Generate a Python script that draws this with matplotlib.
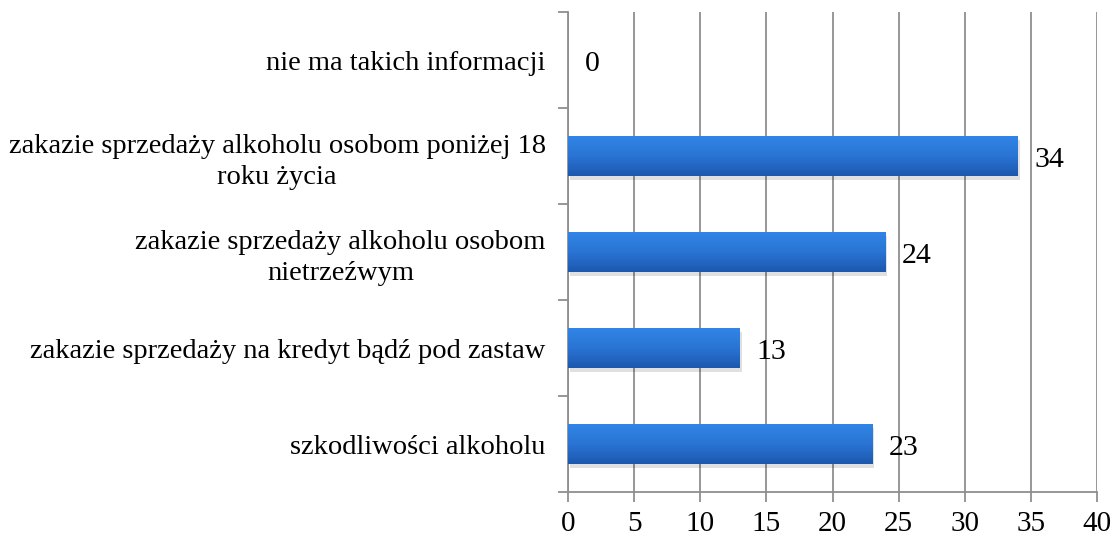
import matplotlib.pyplot as plt
import matplotlib.transforms as mtransforms
from matplotlib.colors import LinearSegmentedColormap
import numpy as np

plt.rcParams["font.family"] = ["Liberation Serif", "DejaVu Serif"]

categories = [
    "nie ma takich informacji",
    "zakazie sprzedaży alkoholu osobom poniżej 18\nroku życia",
    "zakazie sprzedaży alkoholu osobom\nnietrzeźwym",
    "zakazie sprzedaży na kredyt bądź pod zastaw",
    "szkodliwości alkoholu",
]
values = [0, 34, 24, 13, 23]
x_ticks = [0, 5, 10, 15, 20, 25, 30, 35, 40]

grid_c = "#8f8f8f"
blue = LinearSegmentedColormap.from_list("bar_blue", ["#3085e6", "#2a74d4", "#1c58ae"])

fig = plt.figure(figsize=(11.15, 5.39), dpi=100)
ax = fig.add_axes([568 / 1115, 47 / 539, 529 / 1115, 480 / 539])

ypos = np.arange(len(categories))
bar_h = 0.41

# soft drop shadow under each bar
shadow = mtransforms.offset_copy(ax.transData, fig=fig, x=1.5, y=-3, units="points")
for v, y in zip(values, ypos):
    if v > 0:
        ax.barh(y, v, height=bar_h, color="#000000", alpha=0.12, transform=shadow, zorder=2)

bars = ax.barh(ypos, values, height=bar_h, color="none", zorder=3)

# vertical gradient fill clipped to each bar
grad = np.linspace(0, 1, 64).reshape(-1, 1)
for b in bars:
    if b.get_width() <= 0:
        continue
    x0, y0 = b.get_x(), b.get_y()
    w, h = b.get_width(), b.get_height()
    im = ax.imshow(grad, cmap=blue, aspect="auto", origin="upper",
                   extent=(x0, x0 + w, y0 + h, y0), zorder=3)
    im.set_clip_path(b)

for v, y in zip(values, ypos):
    ax.annotate(str(v), (v, y), xytext=(12, -3), textcoords="offset points",
                ha="left", va="center", fontsize=21.5, zorder=4)

ax.set_xlim(0, 40)
ax.set_ylim(len(categories) - 0.5, -0.5)
ax.set_xticks(x_ticks)
ax.set_xticklabels([str(t) for t in x_ticks], fontsize=21)

# boundary ticks as majors, category names on minor ticks
ax.set_yticks(np.arange(-0.5, len(categories), 1.0))
ax.set_yticklabels([])
ax.set_yticks(ypos, minor=True)
ax.set_yticklabels(categories, minor=True, fontsize=20.5)
for lab in ax.get_yticklabels(minor=True):
    lab.set_multialignment("center")
    lab.set_linespacing(1.3)

ax.tick_params(axis="y", which="major", length=7, width=1.3, color=grid_c, direction="out")
ax.tick_params(axis="y", which="minor", length=0, pad=16)
ax.tick_params(axis="x", which="major", length=7, width=1.3, color=grid_c, direction="out", pad=7)

ax.grid(axis="x", color=grid_c, linewidth=1.3, zorder=1)
ax.set_axisbelow(True)
for side in ["top", "right"]:
    ax.spines[side].set_visible(False)
for side in ["left", "bottom"]:
    ax.spines[side].set_color(grid_c)
    ax.spines[side].set_linewidth(1.3)

fig.savefig("out.png", dpi=100)
